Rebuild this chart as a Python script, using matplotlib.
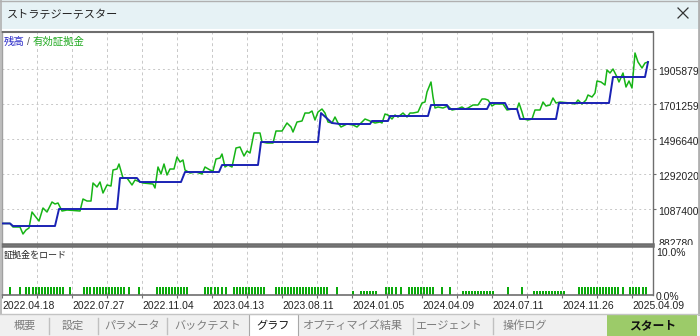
import matplotlib
matplotlib.use("Agg")
import numpy as np
import matplotlib.pyplot as plt
from matplotlib.patches import Rectangle
from matplotlib.lines import Line2D
from matplotlib.transforms import Bbox, blended_transform_factory

W, H = 700, 336
JP = ['Noto Sans CJK JP', 'DejaVu Sans']
NUM = ['Liberation Sans', 'DejaVu Sans']

# balance curve (x = deal number, y = JPY)
balance_x = [0, 8, 11, 53, 57, 115, 118, 135, 138, 179,
             183, 217, 220, 256, 259, 316, 319, 330, 338, 368,
             370, 386, 388, 426, 429, 445, 447, 485, 488, 503,
             506, 515, 518, 554, 557, 607, 611, 643, 646]
balance_y = [1000000, 1000000, 985100, 985100, 1084500, 1084500, 1265700, 1265700, 1242300, 1242300,
             1300800, 1300800, 1341700, 1341700, 1476200, 1476200, 1645700, 1587300, 1581400, 1581400,
             1599000, 1599000, 1628200, 1628200, 1692500, 1692500, 1669100, 1669100, 1704200, 1704200,
             1669100, 1669100, 1610600, 1610600, 1704200, 1704200, 1856200, 1856200, 1943900]

# equity curve
equity_x = [0, 8, 11, 18, 21, 24, 27, 30, 33, 37,
            41, 45, 50, 53, 56, 60, 65, 78, 81, 85,
            89, 91, 95, 98, 101, 105, 109, 111, 115, 117,
            121, 125, 130, 133, 141, 151, 153, 156, 159, 162,
            165, 168, 172, 175, 178, 181, 183, 188, 194, 200,
            203, 208, 211, 214, 218, 220, 223, 226, 230, 234,
            238, 242, 245, 248, 252, 258, 260, 265, 271, 274,
            280, 285, 289, 291, 295, 300, 303, 307, 310, 313,
            316, 320, 323, 326, 330, 333, 336, 339, 345, 351,
            355, 358, 363, 368, 373, 378, 380, 383, 386, 390,
            393, 396, 401, 405, 408, 411, 416, 420, 423, 425,
            429, 431, 433, 436, 441, 446, 450, 455, 460, 463,
            466, 471, 476, 480, 483, 486, 490, 493, 501, 505,
            510, 515, 517, 520, 522, 526, 530, 533, 538, 541,
            544, 548, 551, 554, 558, 568, 573, 576, 580, 584,
            586, 590, 593, 595, 599, 603, 605, 608, 611, 615,
            617, 621, 624, 627, 630, 633, 636, 640, 643, 646]
equity_y = [1000000, 1000000, 979200, 979200, 938300, 961700, 973400, 1066900, 1043600, 1014300,
            1090300, 1066900, 1125400, 1113700, 1119600, 1072800, 1078600, 1072800, 1142900, 1131200,
            1131200, 1236500, 1213100, 1242300, 1178000, 1224800, 1218900, 1312500, 1318300, 1347600,
            1265700, 1265700, 1224800, 1254000, 1236500, 1230600, 1207200, 1330000, 1289100, 1347600,
            1283300, 1318300, 1318300, 1388500, 1359300, 1370900, 1312500, 1294900, 1300800, 1289100,
            1330000, 1312500, 1306600, 1376800, 1382600, 1406000, 1330000, 1341700, 1330000, 1441100,
            1446900, 1394300, 1423600, 1411900, 1528800, 1528800, 1476200, 1470300, 1470300, 1540500,
            1540500, 1587300, 1563900, 1534600, 1593100, 1599000, 1645700, 1645700, 1657400, 1604800,
            1651600, 1669100, 1645700, 1593100, 1587300, 1622300, 1587300, 1563900, 1581400, 1575600,
            1563900, 1581400, 1610600, 1599000, 1587300, 1593100, 1587300, 1639900, 1634000, 1610600,
            1634000, 1622300, 1645700, 1622300, 1645700, 1645700, 1651600, 1704200, 1710000, 1768500,
            1827000, 1739300, 1675000, 1680800, 1675000, 1686600, 1663300, 1669100, 1680800, 1669100,
            1675000, 1692500, 1692500, 1727600, 1727600, 1721700, 1686600, 1698300, 1698300, 1663300,
            1669100, 1669100, 1704200, 1651600, 1610600, 1604800, 1610600, 1663300, 1663300, 1710000,
            1686600, 1692500, 1733400, 1704200, 1710000, 1704200, 1698300, 1721700, 1698300, 1721700,
            1751000, 1739300, 1762600, 1832800, 1827000, 1809400, 1897100, 1879600, 1903000, 1856200,
            1827000, 1879600, 1797700, 1832800, 1791900, 1996500, 1943900, 1908800, 1938000, 1943900]

# margin load panel (%)
load_high_x = [8, 18, 24, 27, 31, 34, 37, 40, 43, 46, 49, 52, 55, 58, 61, 68,
               82, 85, 88, 92, 95, 98, 101, 104, 107, 110, 113, 116, 119, 122, 127, 137,
               155, 158, 161, 164, 167, 170, 173, 176, 179, 182, 185,
               203, 206, 209, 213, 216, 220, 224,
               232, 235, 238, 241, 244, 247, 250, 253, 256, 259, 262,
               274, 277, 280, 283, 286, 289, 292, 295, 298, 301, 304, 307, 310, 313, 316, 319, 322, 325, 335,
               384, 387, 390, 394, 399, 407, 410, 413, 416, 419, 422, 425, 428, 431, 440, 448,
               506, 520,
               577, 580, 583, 586, 589, 592, 595, 598, 601, 604, 607, 610, 613, 616, 621,
               628, 631, 634, 637, 641, 644]
load_high = 1.8
load_low_x = [351, 359, 362, 365, 368, 371, 374,
              461, 464, 467, 470, 473, 476, 479, 482, 485, 488, 491,
              532, 535, 538, 541, 544, 547, 550, 553, 556, 559, 562]
load_low = 0.95

price_ticks = [882780, 1087400, 1292020, 1496640, 1701259, 1905879]
date_labels = ["2022.04.18", "2022.07.27", "2022.11.04", "2023.04.13", "2023.08.11",
               "2024.01.05", "2024.04.09", "2024.07.11", "2024.11.26", "2025.04.09"]
tabs = ["概要", "設定", "パラメータ", "バックテスト", "グラフ",
        "オプティマイズ結果", "エージェント", "操作ログ"]

N_DEALS = 651
grid_x = np.arange(0, N_DEALS, 35)

DARK = '#6e6e6e'
GRID = '#c8c8c8'


def fx(px):
    return px / W


def fy(py):
    return 1 - py / H


fig = plt.figure(figsize=(W / 100, H / 100), dpi=100)
fig.patch.set_facecolor('white')


def rect(x0, y0, x1, y1, **kw):
    fig.patches.append(Rectangle((fx(x0), fy(y1)), (x1 - x0) / W, (y1 - y0) / H,
                                 transform=fig.transFigure, figure=fig, **kw))


def hline(x0, x1, y, **kw):
    fig.lines.append(Line2D([fx(x0), fx(x1)], [fy(y), fy(y)], transform=fig.transFigure, **kw))


def vline(x, y0, y1, **kw):
    fig.lines.append(Line2D([fx(x), fx(x)], [fy(y0), fy(y1)], transform=fig.transFigure, **kw))


# window chrome
rect(0, 0, 700, 29, facecolor='#e6f2f5', edgecolor='none')
hline(0, 700, 0.5, color='#b0b0b0', lw=1)
vline(0.7, 0, 314, color='#b0b0b0', lw=1.2)
vline(698.5, 0, 314, color='#b0b0b0', lw=2)
fig.text(fx(7), fy(15), "ストラテジーテスター", family=JP, fontsize=8,
         color='#222222', va='center', ha='left')
fig.lines.append(Line2D([fx(678), fx(688)], [fy(8), fy(18)], transform=fig.transFigure,
                        color='#333333', lw=0.9))
fig.lines.append(Line2D([fx(678), fx(688)], [fy(18), fy(8)], transform=fig.transFigure,
                        color='#333333', lw=0.9))

# ---- main chart ----
ax = fig.add_axes([fx(2), fy(244), 651 / W, 212 / H])
ax.set_facecolor('white')
for v in price_ticks[1:]:
    ax.axhline(v, color=GRID, lw=0.7, ls=(0, (2, 3)), zorder=0)
for x in grid_x[1:]:
    ax.axvline(x, color=GRID, lw=0.7, ls=(0, (3, 3)), zorder=0)
ax.plot(equity_x, equity_y, color='#16b416', lw=1.1, zorder=2)
ax.plot(balance_x, balance_y, color='#1a22b4', lw=1.4, zorder=3)
ax.set_xlim(0, N_DEALS)
ax.set_ylim(879900, 2119300)
ax.set_xticks([])
ax.yaxis.tick_right()
ax.set_yticks(price_ticks[1:])
ax.set_yticklabels([])
ax.tick_params(axis='y', direction='out', length=2.5, width=0.8, color=DARK)
ax.spines['top'].set(color=DARK, lw=1.5)
ax.spines['right'].set(color=DARK, lw=1.0)
ax.spines['bottom'].set(color=DARK, lw=1.8)
ax.spines['left'].set(color='#a0a0a0', lw=1.0)

tr = blended_transform_factory(ax.transAxes, ax.transData)
for v, lab in zip(price_ticks, [str(p) for p in price_ticks]):
    off = -2.2 if v != price_ticks[0] else 0
    t = ax.annotate(lab, xy=(1, v), xycoords=tr, xytext=(3.6, off), textcoords='offset points',
                    ha='left', va='center', fontsize=7.5, family=NUM, color='#222222',
                    annotation_clip=False)
    if v == price_ticks[0]:
        t.set_clip_on(True)
        t.set_clip_box(Bbox.from_extents(0, H - 245, W, H))

fig.text(fx(4), fy(42), "残高", family=JP, fontsize=7.5, color='#2a2ac8', va='center')
fig.text(fx(27), fy(42), "/", family=NUM, fontsize=7.5, color='#555555', va='center')
fig.text(fx(33), fy(42), "有効証拠金", family=JP, fontsize=7.5, color='#22aa22', va='center')

# ---- margin load panel ----
ax2 = fig.add_axes([fx(2), fy(295), 651 / W, 49 / H])
ax2.set_facecolor('white')
for x in grid_x[1:]:
    ax2.axvline(x, color=GRID, lw=0.7, ls=(0, (3, 3)), zorder=0)
ax2.bar(load_high_x, [load_high] * len(load_high_x), width=1.9, color='#0aaa0a',
        edgecolor='none', zorder=2)
ax2.bar(load_low_x, [load_low] * len(load_low_x), width=1.9, color='#0aaa0a',
        edgecolor='none', zorder=2)
ax2.set_xlim(0, N_DEALS)
ax2.set_ylim(0, 10.9)
ax2.set_yticks([])
ax2.set_xticks(grid_x)
labels = []
for i in range(len(grid_x)):
    labels.append(date_labels[i // 2] if i % 2 == 0 else "")
ax2.set_xticklabels(labels, family=NUM, fontsize=7.5, color='#222222', ha='left')
ax2.tick_params(axis='x', direction='out', length=2.5, width=0.8, color=DARK, pad=2)
ax2.spines['top'].set(color=DARK, lw=1.8)
ax2.spines['right'].set(color=DARK, lw=1.0)
ax2.spines['bottom'].set(color=DARK, lw=1.2)
ax2.spines['left'].set(color='#a0a0a0', lw=1.0)
tr2 = blended_transform_factory(ax2.transAxes, ax2.transData)
ax2.annotate("10.0%", xy=(1, 10), xycoords=tr2, xytext=(2.2, -2.4), textcoords='offset points',
             ha='left', va='center', fontsize=7.5, family=NUM, color='#222222', annotation_clip=False)
ax2.annotate("0.0%", xy=(1, 0), xycoords=tr2, xytext=(2.2, -1.5), textcoords='offset points',
             ha='left', va='center', fontsize=7.5, family=NUM, color='#222222', annotation_clip=False)
fig.text(fx(4), fy(255), "証拠金をロード", family=JP, fontsize=6.5, color='#222222', va='center')

# ---- tab bar ----
rect(0, 314, 700, 336, facecolor='#f0f0f0', edgecolor='none')
hline(0, 700, 314, color='#c4c4c4', lw=1)
for sx in [49, 98, 167, 413, 493]:
    vline(sx, 318, 334, color='#c0c0c0', lw=1)
rect(249, 314, 298, 337, facecolor='white', edgecolor='#a8a8a8', lw=0.8)
tab_cx = [25, 73, 132, 208, 273, 352, 448, 525]
for name, cx in zip(tabs, tab_cx):
    col = '#111111' if name == "グラフ" else '#7c7c7c'
    fig.text(fx(cx), fy(326), name, family=JP, fontsize=8, color=col, ha='center', va='center')
rect(607, 315, 697, 336, facecolor='#9ccb69', edgecolor='none')
fig.text(fx(653), fy(326), "スタート", family=JP, fontsize=8.5, color='#111111',
         ha='center', va='center', weight='bold')

fig.savefig("out.png", dpi=100, facecolor='white')
